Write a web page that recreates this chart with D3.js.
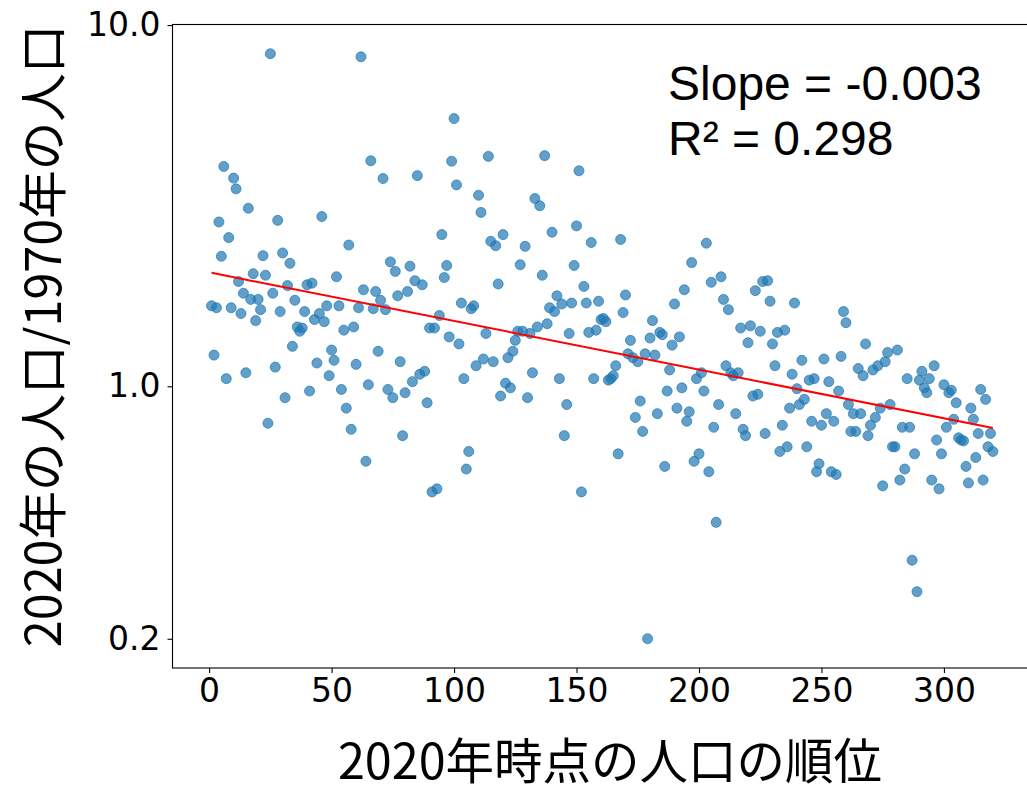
<!DOCTYPE html>
<html>
<head>
<meta charset="utf-8">
<script src="https://cdn.jsdelivr.net/npm/d3@7"></script>
<style>
  body { margin: 0; background: #fff; }
  svg { display: block; }
</style>
</head>
<body>
<svg id="chart" width="1027" height="786"></svg>
<script>
// Ratio of 2020 population to 1970 population, listed by 2020 population rank (rank 1 first)
const ratio = [
  1.67, 1.22, 1.65, 2.85, 2.29, 4.06, 1.05, 2.58, 1.65, 3.77,
  3.52, 1.95, 1.59, 1.81, 1.09, 3.11, 1.74, 2.05, 1.52, 1.74,
  1.63, 2.30, 2.03, 0.79, 8.33, 1.81, 1.13, 2.88, 1.61, 2.34,
  0.93, 1.90, 2.19, 1.29, 1.73, 1.46, 1.42, 1.45, 1.61, 1.91,
  0.97, 1.93, 1.53, 1.16, 1.59, 2.95, 1.51, 1.67, 1.07, 1.26,
  1.18, 2.01, 1.67, 0.98, 1.43, 0.87, 2.46, 0.76, 1.46, 1.15,
  1.65, 8.17, 1.85, 0.62, 1.01, 4.21, 1.64, 1.83, 1.25, 1.73,
  3.76, 1.63, 0.98, 2.21, 0.93, 2.08, 1.78, 1.17, 0.73, 0.96,
  1.83, 2.15, 1.03, 1.96, 3.83, 1.08, 1.91, 1.10, 0.90, 1.45,
  0.51, 1.45, 0.52, 1.57, 2.63, 2.00, 2.16, 1.37, 4.20, 5.51,
  3.61, 1.31, 1.70, 1.05, 0.59, 0.66, 1.64, 1.67, 1.14, 3.38,
  3.03, 1.19, 1.40, 4.33, 2.52, 1.17, 2.45, 1.92, 0.94, 2.63,
  1.02, 1.20, 0.99, 1.25, 1.34, 1.42, 2.17, 1.42, 2.44, 0.93,
  1.40, 1.09, 3.31, 1.46, 3.16, 2.03, 4.35, 1.49, 1.65, 2.67,
  1.61, 1.78, 1.05, 1.69, 0.73, 0.89, 1.40, 1.70, 2.16, 2.78,
  3.95, 0.51, 1.89, 1.70, 1.41, 2.50, 1.05, 1.43, 1.72, 1.53,
  1.54, 1.51, 1.04, 1.05, 1.07, 1.14, 0.65, 2.55, 1.60, 1.79,
  1.23, 1.34, 1.20, 0.82, 1.17, 0.91, 0.75, 1.23, 0.20, 1.36,
  1.52, 1.22, 0.84, 1.41, 1.39, 0.60, 0.97, 1.11, 1.30, 1.69,
  0.87, 1.37, 0.99, 1.85, 0.80, 0.85, 2.20, 0.62, 1.05, 0.65,
  1.09, 0.97, 2.49, 0.58, 1.94, 0.77, 0.42, 0.89, 2.01, 1.74,
  1.14, 1.63, 1.09, 1.07, 0.84, 1.09, 1.45, 0.76, 0.73, 1.32,
  1.47, 0.94, 1.84, 0.95, 1.42, 1.95, 0.74, 1.96, 1.72, 1.31,
  1.14, 1.41, 0.66, 0.78, 1.43, 0.68, 0.87, 1.08, 1.70, 0.985,
  0.89, 1.18, 0.92, 0.68, 1.04, 0.80, 1.05, 0.58, 0.61, 0.78,
  1.19, 0.84, 1.03, 0.58, 0.80, 0.57, 0.97, 1.21, 1.61, 1.50,
  0.89, 0.75, 0.84, 0.75, 1.12, 0.84, 1.07, 1.31, 0.73, 0.78,
  1.11, 0.82, 1.14, 0.87, 0.53, 1.17, 1.24, 0.89, 0.68, 0.68,
  1.26, 0.55, 0.77, 0.59, 1.05, 0.77, 0.33, 0.65, 0.27, 1.04,
  1.10, 0.99, 0.96, 1.05, 0.55, 1.14, 0.71, 0.52, 0.65, 1.01,
  0.77, 0.96, 0.975, 0.81, 0.90, 0.72, 0.71, 0.706, 0.60, 0.54,
  0.87, 0.81, 0.635, 0.74, 0.98, 0.55, 0.92, 0.68, 0.74, 0.66
];

// Log-linear fit: ln(ratio) = fitIntercept + fitSlope * rank
const fitSlope = -0.0031;
const fitIntercept = 0.7263;
const fitR2 = 0.298;

const xTicks = [0, 50, 100, 150, 200, 250, 300];
const yTicks = [0.2, 1.0, 10.0];
const yTickLabels = ["0.2", "1.0", "10.0"];

const xTitle = "2020年時点の人口の順位";
const yTitle = "2020年の人口/1970年の人口";

const points = ratio.map((v, i) => ({ rank: i + 1, value: v }));

const svg = d3.select("#chart");
const plot = { left: 172.5, top: 24.5, bottom: 668, right: 1032 };

// 5% padding on both axes, the y padding taken in log space
const xExt = d3.extent(points, d => d.rank);
const xPad = (xExt[1] - xExt[0]) * 0.05;
const x = d3.scaleLinear()
  .domain([xExt[0] - xPad, xExt[1] + xPad])
  .range([plot.left, plot.right]);

const lyExt = d3.extent(points, d => Math.log10(d.value));
const lyPad = (lyExt[1] - lyExt[0]) * 0.05;
const y = d3.scaleLog()
  .domain([Math.pow(10, lyExt[0] - lyPad), Math.pow(10, lyExt[1] + lyPad)])
  .range([plot.bottom, plot.top]);

// Scatter points
svg.append("g")
  .selectAll("circle")
  .data(points)
  .join("circle")
  .attr("cx", d => x(d.rank))
  .attr("cy", d => y(d.value))
  .attr("r", 5)
  .attr("fill", "#1f77b4")
  .attr("fill-opacity", 0.7)
  .attr("stroke", "#1f77b4")
  .attr("stroke-opacity", 0.7)
  .attr("stroke-width", 1);

// Fitted trend line
const fitRanks = [xExt[0], xExt[1]];
svg.append("path")
  .datum(fitRanks.map(r => ({ rank: r, value: Math.exp(fitIntercept + fitSlope * r) })))
  .attr("fill", "none")
  .attr("stroke", "#ff0000")
  .attr("stroke-width", 2)
  .attr("d", d3.line().x(d => x(d.rank)).y(d => y(d.value)));

// Axes
const tickFont = "'DejaVu Sans', sans-serif";
const xAxis = d3.axisBottom(x).tickValues(xTicks).tickSize(5).tickPadding(6).tickFormat(d3.format("d"));
const gx = svg.append("g")
  .attr("transform", `translate(0,${plot.bottom})`)
  .call(xAxis);
gx.select(".domain").remove();
gx.selectAll("text").attr("font-family", tickFont).attr("font-size", 33).attr("fill", "#000");
gx.selectAll("line").attr("stroke", "#000").attr("stroke-width", 1.1);

const yAxis = d3.axisLeft(y).tickValues(yTicks).tickSize(5).tickPadding(7)
  .tickFormat((d, i) => yTickLabels[i]);
const gy = svg.append("g")
  .attr("transform", `translate(${plot.left},0)`)
  .call(yAxis);
gy.select(".domain").remove();
gy.selectAll("text").attr("font-family", tickFont).attr("font-size", 33).attr("fill", "#000");
gy.selectAll("line").attr("stroke", "#000").attr("stroke-width", 1.1);

// Frame
svg.append("rect")
  .attr("x", plot.left).attr("y", plot.top)
  .attr("width", plot.right - plot.left).attr("height", plot.bottom - plot.top)
  .attr("fill", "none").attr("stroke", "#000").attr("stroke-width", 1.1);

// Axis titles
const cjkFont = "'Noto Sans CJK JP', sans-serif";
svg.append("text")
  .attr("x", 610)
  .attr("y", 779)
  .attr("text-anchor", "middle")
  .attr("font-family", cjkFont)
  .attr("font-size", 48.5)
  .attr("fill", "#000")
  .text(xTitle);

svg.append("text")
  .attr("transform", "translate(61,336) rotate(-90)")
  .attr("text-anchor", "middle")
  .attr("font-family", cjkFont)
  .attr("font-size", 48.5)
  .attr("fill", "#000")
  .text(yTitle);

// Fit statistics
const fmt = d3.formatLocale({ decimal: ".", thousands: ",", grouping: [3], currency: ["", ""], minus: "-" }).format(".3f");
const statFont = "'Liberation Sans', Arial, sans-serif";
svg.append("text")
  .attr("x", 668).attr("y", 100)
  .attr("font-family", statFont).attr("font-size", 48).attr("fill", "#000")
  .text(`Slope = ${fmt(fitSlope)}`);
svg.append("text")
  .attr("x", 668).attr("y", 155)
  .attr("font-family", statFont).attr("font-size", 48).attr("fill", "#000")
  .text(`R² = ${fmt(fitR2)}`);
</script>
</body>
</html>
